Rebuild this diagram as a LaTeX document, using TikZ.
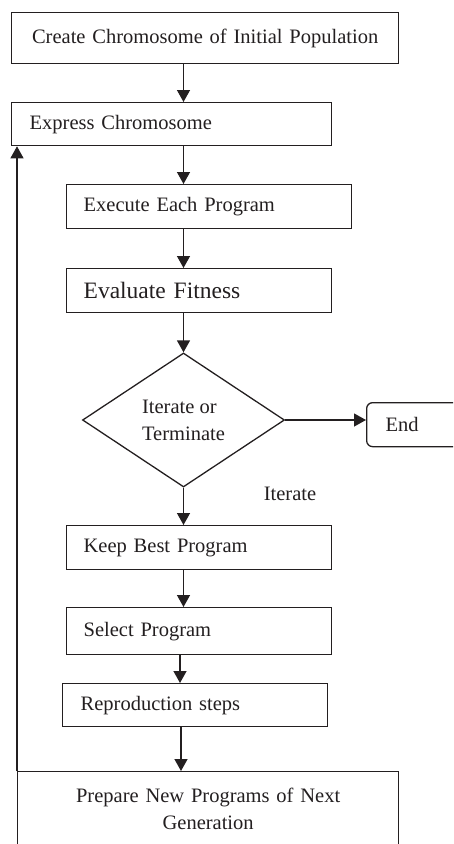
\documentclass[tikz,border=0pt]{standalone}
\usepackage{fontspec}
\setmainfont{Liberation Serif}
\usetikzlibrary{arrows.meta,shapes.geometric}
\definecolor{ink}{RGB}{35,31,32}
\begin{document}
\begin{tikzpicture}[x=1pt,y=-1pt,
  every node/.style={font=\fontsize{20.5}{27}\selectfont, text=ink},
  box/.style={draw=ink, line width=1.3pt, rectangle, anchor=north west, inner ysep=0pt, align=left},
  arr/.style={draw=ink, line width=1.3pt, -{Triangle[length=12pt,width=13pt]}}]
\useasboundingbox (0,0) rectangle (453,844);
\clip (0,0) rectangle (453,844);
\coordinate (spine) at (183.5,0);
\coordinate (spineb) at (180,0);
\coordinate (spinec) at (181,0);
\node[box, align=center, inner xsep=6pt, text width=375pt, minimum height=51pt] (create) at (11,12) {Create Chromosome of Initial Population};
\node[box, inner xsep=18pt, text width=284pt, minimum height=43pt] (express) at (11,102) {Express Chromosome};
\node[box, inner xsep=17pt, text width=251pt, minimum height=44pt] (execute) at (66,184) {Execute Each Program};
\node[box, inner xsep=17pt, text width=231pt, minimum height=44pt, font=\fontsize{23.5}{28}\selectfont] (evaluate) at (66,268) {Evaluate Fitness};
\node[draw=ink, line width=1.3pt, diamond, inner sep=0pt, aspect=1.5, minimum width=202pt, minimum height=134pt, align=left] (decide) at (183.5,420) {Iterate or\\Terminate};
\node[box, rounded corners=6pt, inner xsep=19pt, text width=90pt, minimum height=44pt] (end) at (366,402) {End};
\node (iter) at (290,494) {Iterate};
\node[box, inner xsep=17pt, text width=231pt, minimum height=44pt] (keep) at (66,525) {Keep Best Program};
\node[box, inner xsep=17pt, text width=231pt, minimum height=47pt] (select) at (66,607) {Select Program};
\node[box, inner xsep=18pt, text width=229pt, minimum height=43pt] (repro) at (62,683) {Reproduction steps};
\node[box, align=center, inner xsep=10pt, text width=361pt, minimum height=75pt] (prepare) at (17,771) {Prepare New Programs of Next\\Generation};
\draw[arr] (create.south -| spine) -- (express.north -| spine);
\draw[arr] (express.south -| spine) -- (execute.north -| spine);
\draw[arr] (execute.south -| spine) -- (evaluate.north -| spine);
\draw[arr] (evaluate.south -| spine) -- (decide.north);
\draw[arr] (decide.east) -- (decide.east -| end.west);
\draw[arr] (decide.south) -- (keep.north -| decide.south);
\draw[arr] (keep.south -| spine) -- (select.north -| spine);
\draw[arr] (select.south -| spineb) -- (repro.north -| spineb);
\draw[arr] (repro.south -| spinec) -- (prepare.north -| spinec);
\draw[arr] (prepare.north west) -- (prepare.north west |- express.south);
\end{tikzpicture}
\end{document}
